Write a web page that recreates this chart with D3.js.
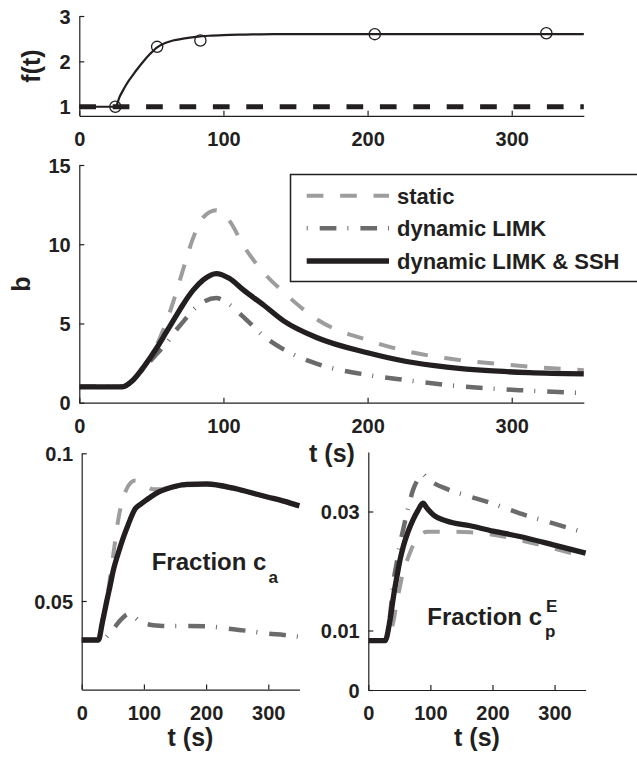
<!DOCTYPE html>
<html>
<head>
<meta charset="utf-8">
<script src="https://cdn.jsdelivr.net/npm/d3@7"></script>
<style>
  body { margin: 0; background: #fff; }
  text { font-family: "Liberation Sans", Arial, Helvetica, sans-serif; font-weight: bold; fill: #231f20; }
  .tick text { font-size: 20px; }
</style>
</head>
<body>
<div id="chart"></div>
<script>
// ----------------------------- DATA ------------------------------------------
// top panel: measured f(t) and fitted curve
var obsT = [25, 54, 84, 205, 324];
var obsF = [1.0, 2.32, 2.46, 2.6, 2.62];
var fitT = [0, 25, 28, 31, 34, 37, 40, 44, 49, 54, 60, 65, 72, 81, 90, 100, 115, 135, 170, 350];
var fitF = [1, 1, 1.22, 1.4, 1.56, 1.69, 1.82, 1.98, 2.16, 2.31, 2.41, 2.46, 2.5, 2.54, 2.565, 2.58, 2.59, 2.6, 2.6, 2.6];
var baseT = [0, 350];
var baseF = [1, 1];

// middle panel: b(t)
var midT = [0, 30, 37, 45, 54, 60, 66, 72, 79, 86, 95, 104, 114, 128, 142, 165, 200, 227, 255, 284, 312, 350];
var bStatic = [1, 1, 1.45, 2.2, 3.7, 5.0, 6.6, 8.4, 10.4, 11.7, 12.15, 11.5, 9.9, 8.2, 6.95, 5.25, 3.95, 3.25, 2.8, 2.5, 2.28, 2.05];
var bLimk   = [1, 1, 1.4, 2.2, 3.1, 3.7, 4.45, 5.1, 5.85, 6.35, 6.6, 6.2, 5.4, 4.2, 3.35, 2.45, 1.75, 1.42, 1.12, 0.9, 0.76, 0.6];
var bBoth   = [1, 1, 1.4, 2.3, 3.5, 4.4, 5.3, 6.2, 7.1, 7.75, 8.15, 7.85, 7.1, 6.15, 5.15, 4.1, 3.15, 2.6, 2.25, 2.02, 1.9, 1.82];

// bottom left: fraction c_a
var caT = [0, 27, 33, 40, 45, 51, 60, 67, 75, 86, 95, 104, 115, 125, 137, 150, 169, 201, 244, 270, 297, 325, 350];
var caStatic = [0.0368, 0.0368, 0.0432, 0.05, 0.057, 0.066, 0.079, 0.085, 0.089, 0.0908, 0.0905, 0.0888, 0.0878, 0.0878, 0.0882, 0.0886, 0.0892, 0.0893, 0.0879, 0.0866, 0.0851, 0.0836, 0.082];
var caLimk   = [0.0368, 0.0368, 0.0362, 0.0378, 0.039, 0.0405, 0.043, 0.0445, 0.0455, 0.0443, 0.0428, 0.0422, 0.0418, 0.0416, 0.0415, 0.0415, 0.0415, 0.0414, 0.0404, 0.0398, 0.039, 0.0385, 0.0379];
var caBoth   = [0.0368, 0.0368, 0.0425, 0.0497, 0.0545, 0.0605, 0.067, 0.0715, 0.076, 0.0812, 0.0828, 0.0842, 0.0858, 0.087, 0.088, 0.0888, 0.0895, 0.0896, 0.0882, 0.0868, 0.0853, 0.0838, 0.0822];

// bottom right: fraction c_p^E
var cpT = [0, 27, 35, 41, 46, 51, 56, 64, 72, 80, 88, 95, 105, 126, 164, 201, 244, 298, 350];
var cpStatic = [0.0083, 0.0083, 0.0095, 0.0118, 0.0148, 0.0174, 0.0198, 0.0222, 0.0243, 0.0257, 0.0264, 0.0266, 0.0266, 0.0266, 0.0265, 0.0261, 0.0252, 0.0238, 0.0224];
var cpLimk   = [0.0083, 0.0083, 0.0125, 0.0185, 0.0215, 0.0245, 0.0269, 0.0305, 0.0336, 0.0354, 0.0362, 0.0355, 0.0348, 0.0338, 0.0325, 0.0313, 0.0297, 0.028, 0.0264];
var cpBoth   = [0.0083, 0.0083, 0.0118, 0.016, 0.019, 0.0218, 0.024, 0.0266, 0.0286, 0.0302, 0.0314, 0.0305, 0.0294, 0.0284, 0.0276, 0.0267, 0.0258, 0.0244, 0.023];

var legendLabels = ["static", "dynamic LIMK", "dynamic LIMK & SSH"];
var timeTicks = [0, 100, 200, 300];

// ----------------------------- STYLES ----------------------------------------
var ink = "#231f20";
var styles = [
  {color: "#9d9d9d", width: 4,   dash: "16.7,16.7"},      // static
  {color: "#6b6b6b", width: 4.5, dash: "16.7,11,1,12"},   // dynamic LIMK
  {color: ink,       width: 5.3, dash: null}               // LIMK & SSH
];

var svg = d3.select("#chart").append("svg")
  .attr("width", 637)
  .attr("height", 758);

// build one set of axes, returns scales
function panel(o) {
  var x = d3.scaleLinear().domain([0, 350]).range([o.left, o.right]);
  var y = d3.scaleLinear().domain(o.yDomain).range([o.bottom, o.top]);

  var gx = svg.append("g")
    .attr("transform", "translate(0," + o.bottom + ")")
    .call(d3.axisBottom(x).tickValues(timeTicks).tickSizeInner(-5).tickSizeOuter(0)
      .tickPadding(16).tickFormat(d => String(d)));
  var gy = svg.append("g")
    .attr("transform", "translate(" + o.left + ",0)")
    .call(d3.axisLeft(y).tickValues(o.yTicks).tickSizeInner(-5).tickSizeOuter(0)
      .tickPadding(8.6).tickFormat(d => String(d)));
  [gx, gy].forEach(function(g) {
    g.select(".domain").attr("stroke", ink).attr("stroke-width", 1.2);
    g.selectAll(".tick line").attr("stroke", ink).attr("stroke-width", 1.2);
  });
  gy.selectAll(".tick text").attr("dy", "0.36em");
  return {x: x, y: y, g: svg.append("g")};
}

function drawLine(p, ts, vs, st) {
  var line = d3.line()
    .x(d => p.x(d[0]))
    .y(d => p.y(d[1]))
    .curve(d3.curveMonotoneX);
  p.g.append("path")
    .datum(d3.zip(ts, vs))
    .attr("fill", "none")
    .attr("stroke", st.color)
    .attr("stroke-width", st.width)
    .attr("stroke-dasharray", st.dash)
    .attr("d", line);
}

// ----------------------------- TOP PANEL -------------------------------------
var fPanel = panel({left: 79.3, right: 583.8, top: 16, bottom: 115.8, yDomain: [0.8, 3], yTicks: [1, 2, 3]});
drawLine(fPanel, baseT, baseF, {color: ink, width: 5, dash: "16.7,16.7"});
drawLine(fPanel, fitT, fitF, {color: ink, width: 2.2, dash: null});
fPanel.g.selectAll("circle")
  .data(d3.zip(obsT, obsF))
  .enter()
  .append("circle")
    .attr("cx", d => fPanel.x(d[0]))
    .attr("cy", d => fPanel.y(d[1]))
    .attr("r", 5.6)
    .attr("fill", "none")
    .attr("stroke", ink)
    .attr("stroke-width", 1.3);

svg.append("text")
  .attr("transform", "translate(31,66) rotate(-90)")
  .attr("text-anchor", "middle")
  .attr("dy", "0.35em")
  .style("font-size", "25px")
  .text("f(t)");

// ----------------------------- MIDDLE PANEL ----------------------------------
var bPanel = panel({left: 79.3, right: 583.8, top: 165, bottom: 402.7, yDomain: [0, 15], yTicks: [0, 5, 10, 15]});
drawLine(bPanel, midT, bStatic, styles[0]);
drawLine(bPanel, midT, bLimk, styles[1]);
drawLine(bPanel, midT, bBoth, styles[2]);

svg.append("text")
  .attr("transform", "translate(21,284) rotate(-90)")
  .attr("text-anchor", "middle")
  .attr("dy", "0.35em")
  .style("font-size", "25px")
  .text("b");

svg.append("text")
  .attr("x", 332).attr("y", 462)
  .attr("text-anchor", "middle")
  .style("font-size", "25px")
  .text("t (s)");

// legend
var legend = svg.append("g");
legend.append("rect")
  .attr("x", 290.5).attr("y", 174.5)
  .attr("width", 380).attr("height", 107)
  .attr("fill", "#fff")
  .attr("stroke", ink)
  .attr("stroke-width", 1.5);
var legendY = [195.7, 228.3, 261];
legendLabels.forEach(function(lbl, i) {
  legend.append("line")
    .attr("x1", 306.7).attr("x2", 389)
    .attr("y1", legendY[i]).attr("y2", legendY[i])
    .attr("stroke", styles[i].color)
    .attr("stroke-width", styles[i].width)
    .attr("stroke-dasharray", i === 1 ? "1,12,16.7,11" : styles[i].dash);
  legend.append("text")
    .attr("x", 397).attr("y", legendY[i])
    .attr("dy", "0.36em")
    .style("font-size", "22px")
    .text(lbl);
});

// ----------------------------- BOTTOM LEFT -----------------------------------
var caPanel = panel({left: 81.7, right: 299.4, top: 453.3, bottom: 689.6, yDomain: [0.02, 0.1], yTicks: [0.05, 0.1]});
drawLine(caPanel, caT, caStatic, styles[0]);
drawLine(caPanel, caT, caLimk, styles[1]);
drawLine(caPanel, caT, caBoth, styles[2]);

var caLabel = svg.append("text")
  .attr("x", 151.7).attr("y", 570)
  .style("font-size", "24px");
caLabel.append("tspan").text("Fraction c");
caLabel.append("tspan")
  .attr("dx", 2).attr("dy", 13)
  .style("font-size", "17px")
  .text("a");

svg.append("text")
  .attr("x", 190.5).attr("y", 746)
  .attr("text-anchor", "middle")
  .style("font-size", "25px")
  .text("t (s)");

// ----------------------------- BOTTOM RIGHT ----------------------------------
var cpPanel = panel({left: 368.3, right: 585.6, top: 452, bottom: 690, yDomain: [0, 0.04], yTicks: [0, 0.01, 0.03]});
drawLine(cpPanel, cpT, cpStatic, styles[0]);
drawLine(cpPanel, cpT, cpLimk, styles[1]);
drawLine(cpPanel, cpT, cpBoth, styles[2]);

svg.append("text")
  .attr("x", 427.3).attr("y", 625)
  .style("font-size", "24px")
  .text("Fraction c");
svg.append("text")
  .attr("x", 545).attr("y", 637)
  .style("font-size", "17px")
  .text("p");
svg.append("text")
  .attr("x", 546).attr("y", 612)
  .style("font-size", "17px")
  .text("E");

svg.append("text")
  .attr("x", 477).attr("y", 746)
  .attr("text-anchor", "middle")
  .style("font-size", "25px")
  .text("t (s)");
</script>
</body>
</html>
